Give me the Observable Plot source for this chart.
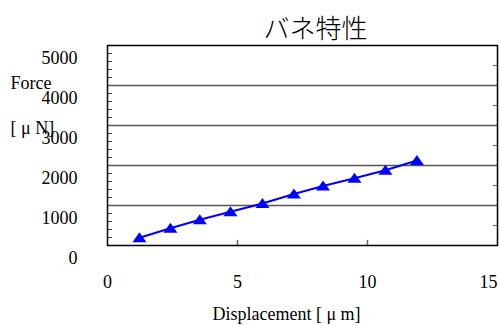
<!DOCTYPE html>
<html>
<head>
<meta charset="utf-8">
<script src="https://cdn.jsdelivr.net/npm/d3@7"></script>
<script src="https://cdn.jsdelivr.net/npm/@observablehq/plot@0.6"></script>
<style>
  html, body { margin: 0; padding: 0; background: #fff; }
  #chart svg { display: block; }
</style>
</head>
<body>
<div id="chart"></div>
<script>
const title = "バネ特性";
const xLabel = "Displacement [ μ m]";
const yLabel1 = "Force";
const yLabel2 = "[ μ N]";

const displacement = [1.23, 2.42, 3.55, 4.73, 5.96, 7.17, 8.29, 9.5, 10.69, 11.9];
const force = [195, 433, 643, 843, 1050, 1288, 1488, 1680, 1883, 2125];

const yTicks = [0, 1000, 2000, 3000, 4000, 5000];
const yGrid = [1000, 2000, 3000, 4000];
const yMinor = [200, 400, 600, 800, 1200, 1400, 1600, 1800, 2200, 2400, 2600, 2800, 3200, 3400, 3600, 3800, 4200, 4400, 4600, 4800];
const yRightTicks = [500, 1500, 2500, 3500, 4500];
const xTicks = [0, 5, 10];
const xLastTick = [15];
const xInnerTicks = [5, 10];

const data = displacement.map((x, i) => ({x, y: force[i]}));

const triangle = {
  draw(context) {
    context.moveTo(0, -5.5);
    context.lineTo(7, 4.5);
    context.lineTo(-7, 4.5);
    context.closePath();
  }
};
const tickShape = {
  draw(context, l) {
    context.moveTo(0, 0);
    context.lineTo(0, -l);
  }
};

const serif = "'Liberation Serif', 'Times New Roman', serif";
const fmt = d => String(d);

const chart = Plot.plot({
  width: 500,
  height: 325,
  marginLeft: 107,
  marginRight: 3,
  marginTop: 45,
  marginBottom: 80,
  style: {fontFamily: serif, fontSize: "18px", background: "#fff", color: "#000"},
  x: {domain: [0, 15]},
  y: {domain: [0, 5000]},
  marks: [
    Plot.ruleY(yGrid, {stroke: "#555", strokeWidth: 1.5}),
    Plot.vector(yMinor, {y: d => d, frameAnchor: "left", rotate: 90, length: 4, anchor: "start", shape: tickShape, stroke: "#333", strokeWidth: 1.2}),
    Plot.vector(yRightTicks, {y: d => d, frameAnchor: "right", rotate: -90, length: 4, anchor: "start", shape: tickShape, stroke: "#666", strokeWidth: 1.2}),
    Plot.vector(xInnerTicks, {x: d => d, frameAnchor: "bottom", rotate: 0, length: 5, anchor: "start", shape: tickShape, stroke: "#666", strokeWidth: 1.5}),
    Plot.axisY(yTicks, {anchor: "left", tickSize: 0, tickPadding: 30, dy: 13, tickFormat: fmt, label: null, fill: "#000"}),
    Plot.axisX(xTicks, {anchor: "bottom", tickSize: 0, tickPadding: 30, tickFormat: fmt, label: null, fill: "#000"}),
    Plot.axisX(xLastTick, {anchor: "bottom", tickSize: 0, tickPadding: 30, tickFormat: fmt, textAnchor: "end", label: null, fill: "#000"}),
    Plot.frame({stroke: "#000", strokeWidth: 1.5}),
    Plot.line(data, {x: "x", y: "y", stroke: "#0000ff", strokeWidth: 2}),
    Plot.dot(data, {x: "x", y: "y", symbol: triangle, fill: "#0000ff", stroke: "none"}),
    Plot.text([title], {frameAnchor: "top", lineAnchor: "middle", dx: 13, dy: -16, fontSize: 26, fontFamily: "'Noto Sans CJK JP', sans-serif", fontWeight: 300, fill: "#000"}),
    Plot.text([yLabel1], {frameAnchor: "top-left", lineAnchor: "middle", textAnchor: "start", dx: -97, dy: 38, fill: "#000"}),
    Plot.text([yLabel2], {frameAnchor: "top-left", lineAnchor: "middle", textAnchor: "start", dx: -97, dy: 83, fill: "#000"}),
    Plot.text([xLabel], {frameAnchor: "bottom", lineAnchor: "middle", dx: -16, dy: 69, fill: "#000"})
  ]
});

document.getElementById("chart").appendChild(chart);
</script>
</body>
</html>
